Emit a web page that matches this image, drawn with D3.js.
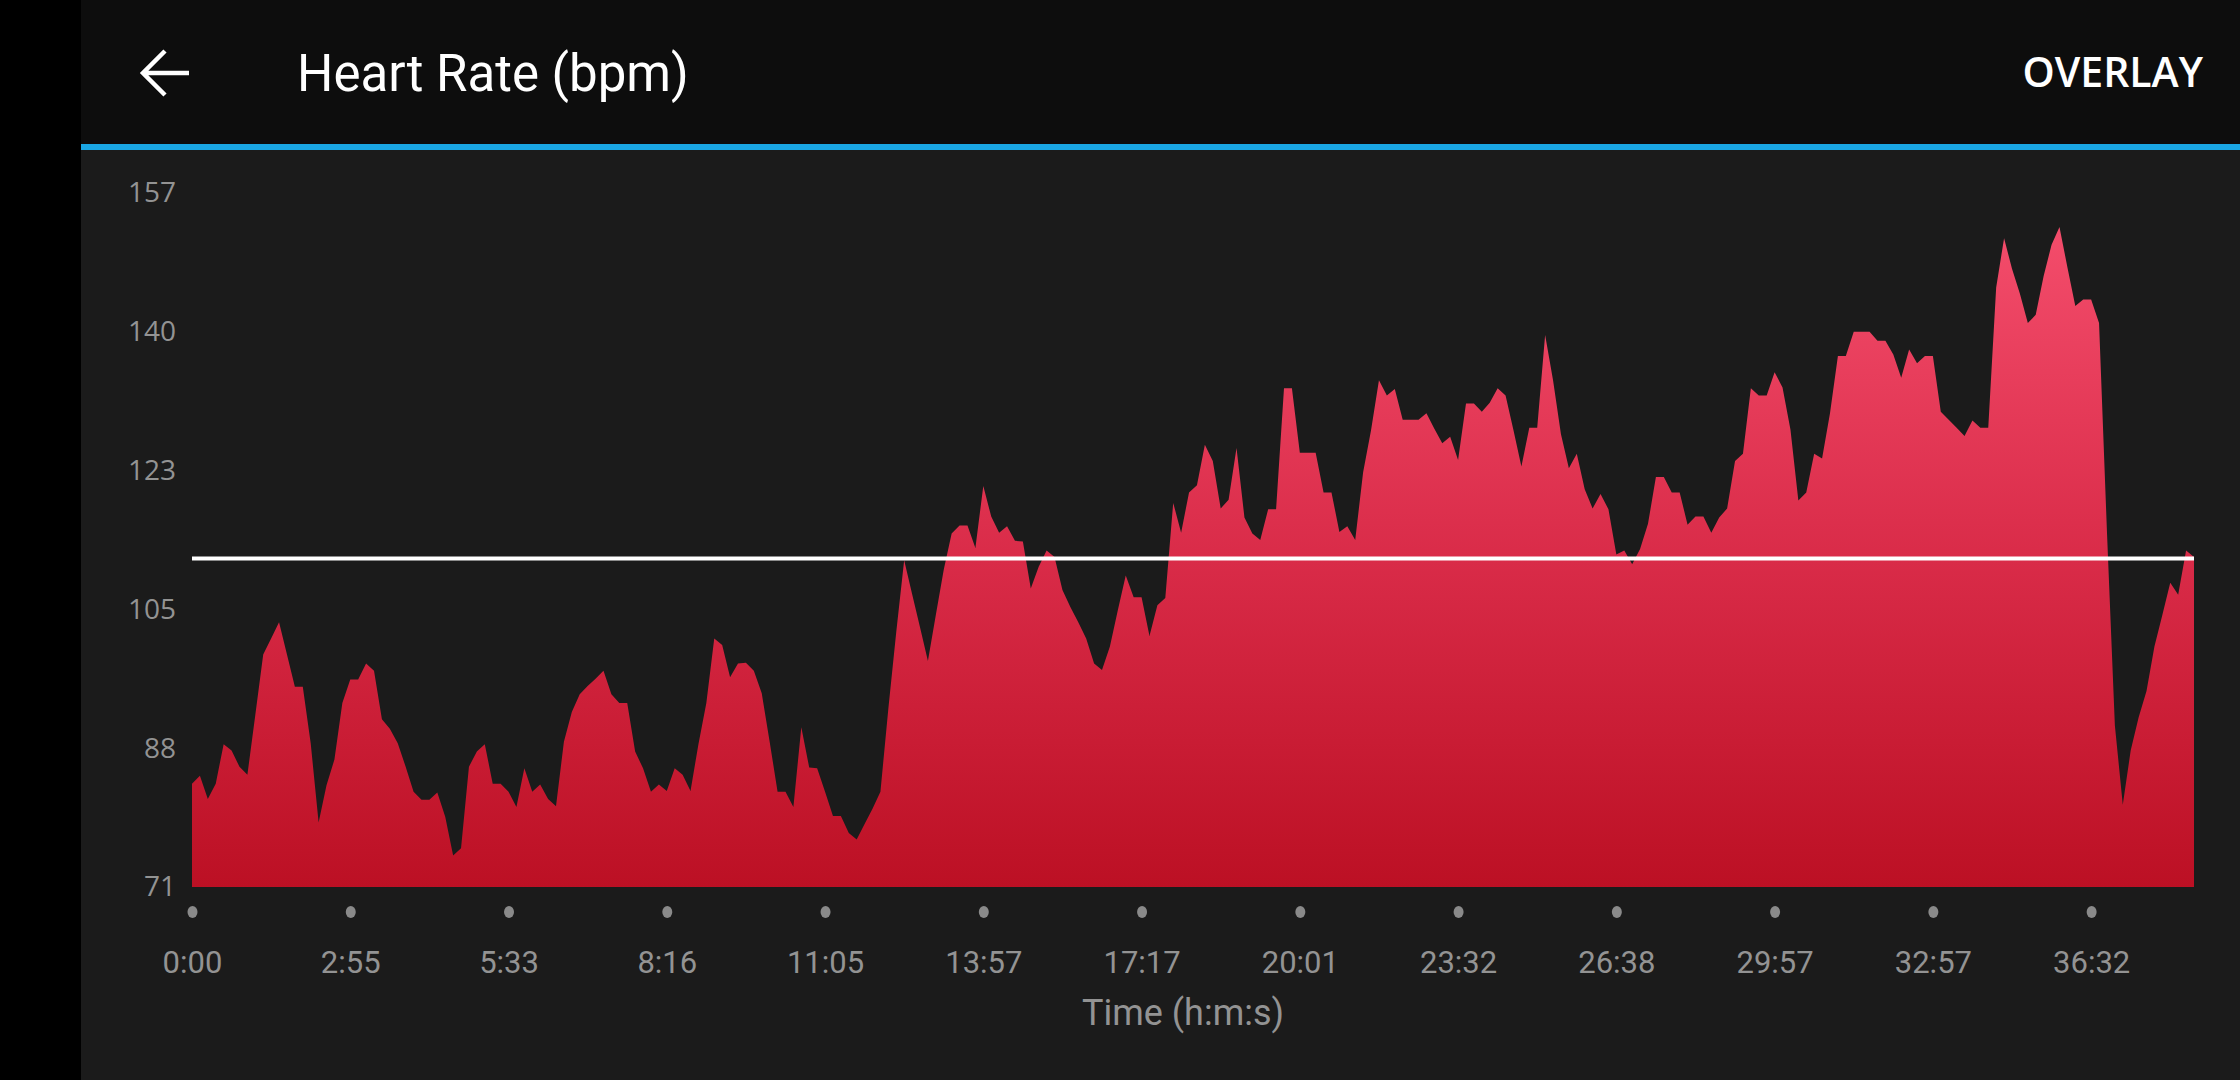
<!DOCTYPE html>
<html>
<head>
<meta charset="utf-8">
<script src="https://cdn.jsdelivr.net/npm/d3@7"></script>
<style>
  html, body { margin: 0; padding: 0; background: #1b1b1b; overflow: hidden; }
  svg { display: block; }
</style>
</head>
<body>
<svg id="chart" width="2240" height="1080"></svg>
<script>
// ---- data ----
const heartRate = [
  83.8, 84.8, 81.9, 83.8, 88.7, 87.9, 85.9, 84.9, 92.3, 99.8,
  101.8, 103.8, 99.8, 95.8, 95.8, 88.8, 79.0, 83.6, 86.8, 93.8,
  96.7, 96.7, 98.7, 97.8, 91.8, 90.6, 88.8, 85.9, 82.8, 81.8,
  81.8, 82.7, 79.7, 74.9, 75.8, 85.9, 87.8, 88.7, 83.8, 83.8,
  82.8, 80.9, 85.7, 82.8, 83.7, 81.9, 81.0, 89.0, 92.7, 94.9,
  95.9, 96.8, 97.8, 94.9, 93.8, 93.8, 87.8, 85.7, 82.8, 83.7,
  82.9, 85.7, 84.9, 82.9, 88.7, 93.8, 101.8, 101.0, 97.0, 98.7,
  98.8, 97.8, 95.0, 89.0, 82.8, 82.8, 80.9, 90.8, 85.8, 85.7,
  82.8, 79.8, 79.8, 77.7, 76.9, 78.8, 80.7, 82.8, 93.1, 102.6,
  111.5, 107.3, 103.2, 99.0, 104.7, 110.3, 114.8, 115.8, 115.8, 113.0,
  120.7, 116.9, 114.9, 115.7, 113.9, 113.8, 108.0, 110.7, 112.7, 111.9,
  107.8, 105.7, 103.8, 101.8, 98.7, 97.9, 100.8, 105.3, 109.6, 106.9,
  106.9, 102.1, 105.9, 106.8, 118.6, 114.9, 119.9, 120.8, 125.8, 123.8,
  117.9, 119.0, 125.4, 116.8, 114.8, 114.0, 117.8, 117.8, 132.8, 132.8,
  124.8, 124.8, 124.8, 119.9, 119.9, 115.0, 115.7, 114.0, 122.4, 127.6,
  133.8, 131.9, 132.7, 128.9, 128.9, 128.9, 129.7, 127.8, 126.0, 126.8,
  123.9, 130.9, 130.9, 129.9, 131.0, 132.8, 131.9, 127.6, 123.1, 127.9,
  127.9, 139.4, 133.8, 127.1, 122.9, 124.7, 120.3, 117.9, 119.7, 117.8,
  112.2, 112.7, 111.0, 112.9, 116.0, 121.8, 121.8, 119.9, 119.9, 115.9,
  116.9, 116.9, 114.9, 116.8, 117.9, 123.8, 124.7, 132.8, 131.9, 131.9,
  134.8, 132.9, 127.7, 118.9, 119.9, 124.7, 124.1, 129.7, 136.8, 136.8,
  139.8, 139.8, 139.8, 138.7, 138.7, 137.0, 134.1, 137.6, 135.9, 136.8,
  136.8, 129.9, 128.9, 127.9, 126.9, 128.8, 127.9, 127.9, 145.3, 151.4,
  147.6, 144.5, 140.9, 141.9, 146.7, 150.6, 152.8, 147.8, 143.0, 143.8,
  143.8, 140.9, 115.0, 91.0, 81.2, 87.9, 92.0, 95.3, 100.8, 104.7,
  108.7, 107.2, 112.7, 111.9
];
const averageHR = 111.7;
const xTickLabels = ["0:00", "2:55", "5:33", "8:16", "11:05", "13:57", "17:17",
                     "20:01", "23:32", "26:38", "29:57", "32:57", "36:32"];
const samplesPerTick = 20;
const yTickValues = [71, 88.2, 105.4, 122.6, 139.8, 157];
const yTickLabels = ["71", "88", "105", "123", "140", "157"];
const yDomain = [71, 157];
const titleText = "Heart Rate (bpm)";
const actionText = "OVERLAY";
const xAxisTitle = "Time (h:m:s)";

// ---- layout ----
const W = 2240, H = 1080;
const plot = { left: 192, right: 2194, top: 193, bottom: 887 };

const svg = d3.select("#chart");

// backgrounds
svg.append("rect").attr("x", 0).attr("y", 0).attr("width", W).attr("height", H).attr("fill", "#1b1b1b");
svg.append("rect").attr("x", 0).attr("y", 0).attr("width", 81).attr("height", H).attr("fill", "#000000");
svg.append("rect").attr("x", 81).attr("y", 0).attr("width", W - 81).attr("height", 144).attr("fill", "#0d0d0d");
svg.append("rect").attr("x", 81).attr("y", 144).attr("width", W - 81).attr("height", 6).attr("fill", "#1aa6e4");

// header
svg.append("path")
  .attr("d", "M143,73 L189,73 M165,51 L143,73 L165,95")
  .attr("fill", "none").attr("stroke", "#ffffff").attr("stroke-width", 4.5)
  .attr("stroke-linecap", "butt").attr("stroke-linejoin", "miter");
svg.append("text").attr("x", 297).attr("y", 91)
  .attr("font-family", "Roboto, 'Noto Sans', sans-serif").attr("font-size", 51)
  .attr("fill", "#ffffff").text(titleText);
svg.append("text").attr("x", 2203).attr("y", 87).attr("text-anchor", "end")
  .attr("font-family", "'Open Sans', 'Noto Sans', sans-serif").attr("font-weight", 600)
  .attr("font-size", 41).attr("fill", "#ffffff").text(actionText);

// scales
const x = d3.scaleLinear().domain([0, heartRate.length - 1]).range([plot.left, plot.right]);
const y = d3.scaleLinear().domain(yDomain).range([plot.bottom, plot.top]);

// gradient
const defs = svg.append("defs");
const grad = defs.append("linearGradient").attr("id", "hrGrad")
  .attr("gradientUnits", "userSpaceOnUse")
  .attr("x1", 0).attr("x2", 0).attr("y1", y(yDomain[1])).attr("y2", y(yDomain[0]));
grad.append("stop").attr("offset", 0).attr("stop-color", "#f6506f");
grad.append("stop").attr("offset", 0.53).attr("stop-color", "#d92b48");
grad.append("stop").attr("offset", 1).attr("stop-color", "#bc1024");

// area
const area = d3.area()
  .x((d, i) => x(i))
  .y0(y(yDomain[0]))
  .y1(d => y(d))
  .curve(d3.curveLinear);
svg.append("path").datum(heartRate).attr("d", area).attr("fill", "url(#hrGrad)");

// average line
svg.append("line")
  .attr("x1", x(0)).attr("x2", x(heartRate.length - 1))
  .attr("y1", y(averageHR)).attr("y2", y(averageHR))
  .attr("stroke", "#ffffff").attr("stroke-width", 4);

// y axis labels
const yAxis = d3.axisLeft(y).tickValues(yTickValues)
  .tickFormat((d, i) => yTickLabels[i]).tickSize(0).tickPadding(16);
const gy = svg.append("g").attr("transform", `translate(${plot.left},0)`).call(yAxis);
gy.select(".domain").remove();
gy.selectAll("text").attr("font-family", "'Open Sans', 'Noto Sans', sans-serif")
  .attr("font-size", 28).attr("fill", "#939393");

// x axis: dots + labels
const xTicks = xTickLabels.map((d, i) => i * samplesPerTick);
const xAxis = d3.axisBottom(x).tickValues(xTicks)
  .tickFormat((d, i) => xTickLabels[i]).tickSize(0).tickPadding(64);
const gx = svg.append("g").attr("transform", `translate(0,${plot.bottom})`).call(xAxis);
gx.select(".domain").remove();
gx.selectAll("text").attr("font-family", "Roboto, 'Noto Sans', sans-serif")
  .attr("font-size", 31).attr("fill", "#939393");
gx.selectAll(".tick").append("ellipse")
  .attr("cx", 0).attr("cy", 25).attr("rx", 5).attr("ry", 6).attr("fill", "#8a8a8a");

svg.append("text").attr("x", 1183).attr("y", 1025).attr("text-anchor", "middle")
  .attr("font-family", "Roboto, 'Noto Sans', sans-serif").attr("font-size", 36)
  .attr("fill", "#939393").text(xAxisTitle);
</script>
</body>
</html>
